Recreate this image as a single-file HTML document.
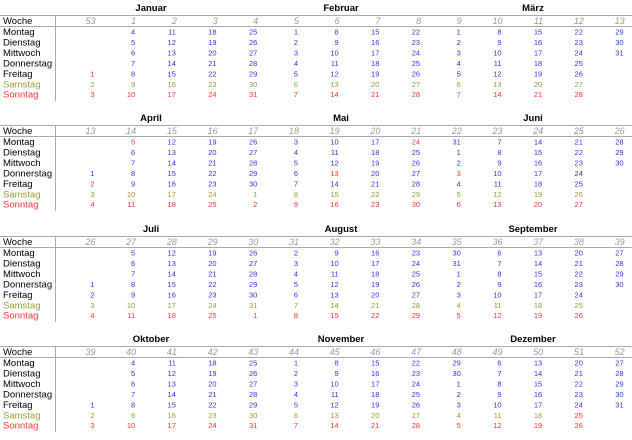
<!DOCTYPE html>
<html><head><meta charset="utf-8"><style>
html,body{margin:0;padding:0;background:#fff}
svg{display:block;font-family:"Liberation Sans",sans-serif}
</style></head><body>
<svg id="cal" width="632" height="440" viewBox="0 0 632 440"></svg>
<script>
const monthNames=["Januar","Februar","März","April","Mai","Juni","Juli","August","September","Oktober","November","Dezember"];
const dayNames=["Montag","Dienstag","Mittwoch","Donnerstag","Freitag","Samstag","Sonntag"];
const blockStartWeeks=[53,13,26,39];
const blockStartDates=["2009-12-28","2010-03-29","2010-06-28","2010-09-27"];
const holidays=["2010-01-01","2010-04-02","2010-04-05","2010-05-13","2010-05-24","2010-06-03","2010-12-25","2010-12-26"];
const titleX=[151,341,533];
const NS="http://www.w3.org/2000/svg";
const svg=document.getElementById('cal');
function t(x,y,s,attrs){const e=document.createElementNS(NS,'text');e.setAttribute('x',x);e.setAttribute('y',y);for(const k in attrs)e.setAttribute(k,attrs[k]);e.textContent=s;svg.appendChild(e);return e;}
function ln(x1,y1,x2,y2){const e=document.createElementNS(NS,'line');e.setAttribute('x1',x1);e.setAttribute('y1',y1);e.setAttribute('x2',x2);e.setAttribute('y2',y2);e.setAttribute('stroke','#aaa');e.setAttribute('stroke-width','1');svg.appendChild(e);return e;}
const blockY=[0,110,221,331];
const colX=i=>91.5+40.7*i;
const rowY=r=>35+10.45*r;
const pad=n=>String(n).padStart(2,'0');
for(let b=0;b<4;b++){
  const oy=blockY[b];
  for(let m=0;m<3;m++){
    const e=t(titleX[m],oy+11,monthNames[b*3+m],{'font-size':'9.5','font-weight':'bold','text-anchor':'middle',fill:'#000'});
    
    
  }
  const l1=ln(0,oy+15.5,632,oy+15.5);
  
  
  const l2=ln(0,oy+26.5,632,oy+26.5);
  
  
  const l3=ln(55.5,oy+15.5,55.5,oy+101);
  
  
  const w=t(3,oy+24,'Woche',{'font-size':'9.5',fill:'#000'});
  
  
  for(let r=0;r<7;r++){
    const c=r==5?'#999933':(r==6?'#ff3333':'#000');
    const e=t(3,oy+rowY(r),dayNames[r],{'font-size':'9.5',fill:c});
    
    
  }
  const start=new Date(blockStartDates[b]+"T12:00:00Z");
  for(let i=0;i<14;i++){
    const wk=blockStartWeeks[b]==53? (i==0?53:i) : blockStartWeeks[b]+i;
    const e=t(colX(i)+4,oy+24,wk,{'font-size':'9','font-style':'italic','text-anchor':'end',fill:'#999'});
    
    
    for(let r=0;r<7;r++){
      const d=new Date(start.getTime()+(i*7+r)*86400000);
      const mo=d.getUTCMonth(), y=d.getUTCFullYear();
      if(y!==2010||Math.floor(mo/3)!==b)continue;
      const iso=y+'-'+pad(mo+1)+'-'+pad(d.getUTCDate());
      let c='#3333ee';
      if(r==5)c='#999933';
      if(r==6||holidays.includes(iso))c='#ff3333';
      const n=t(colX(i)+3,oy+rowY(r)-0.5,d.getUTCDate(),{'font-size':'7.5','text-anchor':'end',fill:c});
      
      
    }
  }
}
</script>
</body></html>
